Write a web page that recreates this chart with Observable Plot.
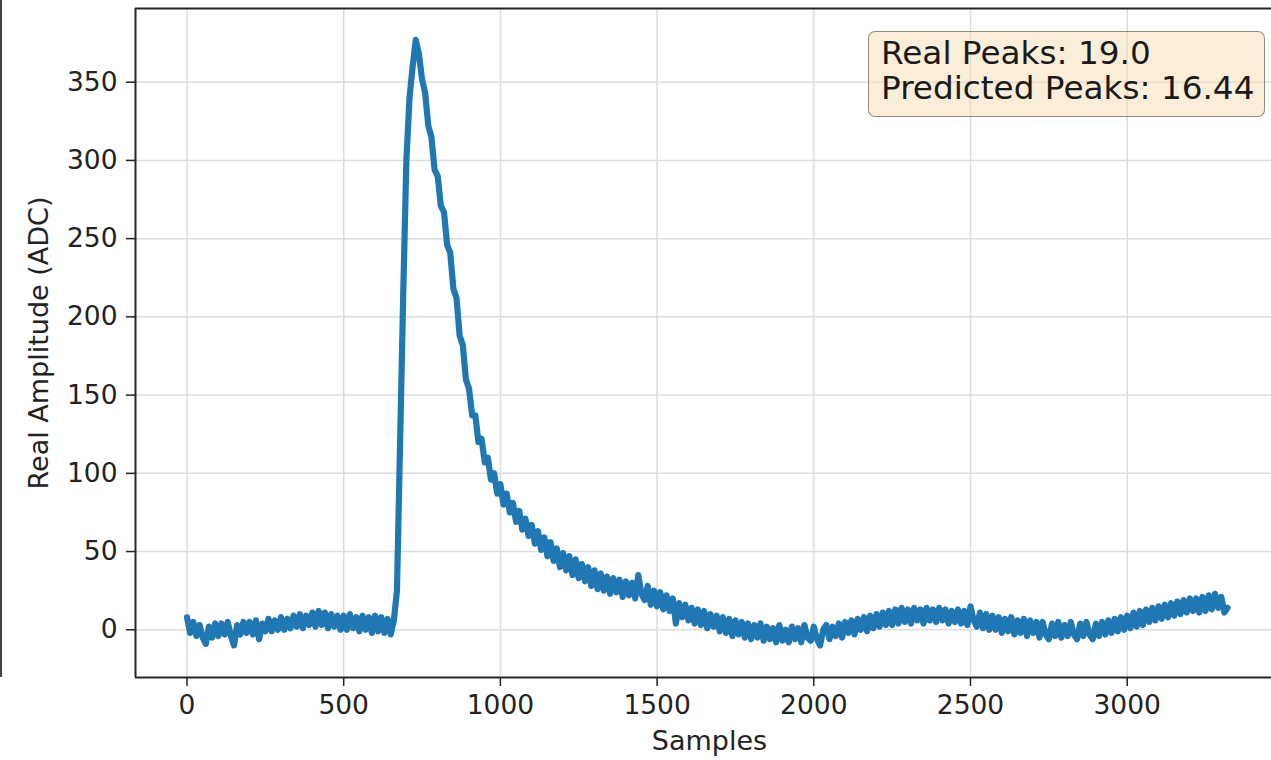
<!DOCTYPE html>
<html>
<head>
<meta charset="utf-8">
<script src="https://cdn.jsdelivr.net/npm/d3@7"></script>
<script src="https://cdn.jsdelivr.net/npm/@observablehq/plot@0.6"></script>
<style>
  html, body { margin: 0; padding: 0; background: #fff; }
  #wrap { position: relative; width: 1271px; height: 760px; overflow: hidden; }
  #edge { position: absolute; left: 0; top: 0; width: 2px; height: 677px; background: #444; }
  #box {
    position: absolute; left: 868px; top: 31px; width: 397px; height: 86px;
    box-sizing: border-box; border: 1.5px solid rgba(0,0,0,0.42); border-radius: 7px;
    background: rgba(245,222,179,0.5); padding: 4px 0 0 12px;
    font-family: "DejaVu Sans", sans-serif; font-size: 32.7px; line-height: 35px;
    color: #1a1a1a; white-space: nowrap;
  }
</style>
</head>
<body>
<div id="wrap">
  <div id="chart"></div>
  <div id="edge"></div>
  <div id="box"></div>
</div>
<script>
// Sample spacing of the read-off values
const sampleStep = 10;
// Amplitude (ADC), every 10 samples from 0 to 3320
const amplitude = [
  8, -2, 5, -4, 3, -5, -9, 2, -5, 4,
  -4, 4, -3, 5, -4, -10, 3, -3, 5, -2,
  5, -3, 6, -6, 4, -1, 7, -1, 6, 0,
  8, 0, 7, 1, 9, 2, 10, 1, 9, 3,
  11, 2, 12, 3, 11, 1, 10, 2, 9, 0,
  9, 0, 10, 1, 8, -1, 9, 0, 8, -2,
  9, -1, 8, -2, 7, -3, 6, 25, 120, 215,
  300, 340, 360, 377, 368, 352, 343, 322, 315, 294,
  290, 271, 267, 246, 241, 218, 212, 188, 182, 160,
  154, 137, 137, 120, 122, 107, 110, 96, 100, 87,
  93, 80, 87, 75, 81, 69, 76, 64, 71, 60,
  67, 55, 63, 51, 59, 47, 56, 44, 52, 40,
  49, 38, 47, 35, 45, 33, 42, 31, 40, 28,
  38, 26, 36, 25, 34, 23, 33, 24, 32, 21,
  31, 22, 30, 20, 35, 23, 19, 28, 16, 25,
  15, 24, 13, 22, 12, 20, 4, 17, 8, 16,
  6, 14, 4, 13, 3, 12, 1, 10, 2, 9,
  -1, 8, -2, 7, -4, 6, -3, 5, -5, 4,
  -6, 3, -5, 4, -7, 2, -6, 1, -8, 3,
  -7, 0, -8, 2, -6, 1, -8, 3, -5, -7,
  2, -6, -10, 0, 3, -6, 2, -4, 4, -5,
  5, -2, 6, -3, 7, 0, 8, -1, 9, 1,
  10, 2, 11, 3, 12, 3, 13, 4, 14, 5,
  13, 4, 14, 6, 13, 4, 14, 6, 13, 5,
  14, 6, 13, 4, 12, 5, 13, 4, 12, 3,
  15, 6, 2, 11, 1, 10, 0, 9, 0, 8,
  -2, 7, -1, 8, -3, 6, -2, 7, -4, 6,
  -2, 5, -5, 5, -3, -6, 4, -4, 5, -5,
  3, -4, 5, -3, -6, 4, -4, 5, -3, -6,
  4, -4, 5, -3, 6, -2, 7, -1, 8, 0,
  9, 1, 11, 2, 12, 3, 13, 5, 14, 6,
  15, 7, 16, 8, 17, 9, 18, 10, 19, 11,
  20, 12, 20, 11, 21, 12, 22, 13, 23, 14,
  21, 11, 14
];
const xTicks = [0, 500, 1000, 1500, 2000, 2500, 3000];
const yTicks = [0, 50, 100, 150, 200, 250, 300, 350];
const xDomain = [-164.3, 3460.4];
const yDomain = [-30.5, 397.1];
const xLabel = "Samples";
const yLabel = "Real Amplitude (ADC)";
const boxLines = ["Real Peaks: 19.0", "Predicted Peaks: 16.44"];

const data = amplitude.map((v, i) => ({sample: i * sampleStep, value: v}));

const spine = {stroke: "#262626", strokeWidth: 2};
const grid = {stroke: "#dcdcdc", strokeOpacity: 1, strokeWidth: 1.5};

const chart = Plot.plot({
  width: 1271,
  height: 760,
  marginLeft: 135,
  marginRight: 0,
  marginTop: 8,
  marginBottom: 83,
  style: {fontFamily: "'DejaVu Sans', sans-serif", fontSize: "26.5px", color: "#222", background: "#fff"},
  x: {domain: xDomain},
  y: {domain: yDomain},
  marks: [
    Plot.gridX(xTicks, grid),
    Plot.gridY(yTicks, grid),
    Plot.line(data, {x: "sample", y: "value", stroke: "#1f77b4", strokeWidth: 6.2, strokeLinejoin: "round", strokeLinecap: "round"}),
    Plot.ruleY([yDomain[0]], spine),
    Plot.ruleY([yDomain[1]], spine),
    Plot.ruleX([xDomain[0]], spine),
    Plot.axisX(xTicks, {tickSize: 9, tickPadding: 9, label: null, strokeWidth: 1.5, tickFormat: d => String(d)}),
    Plot.axisY(yTicks, {tickSize: 9, tickPadding: 9, label: null, strokeWidth: 1.5, tickFormat: d => String(d)}),
    Plot.text([xLabel], {text: d => d, frameAnchor: "bottom", dx: 6, dy: 64, lineAnchor: "middle", fontSize: 27}),
    Plot.text([yLabel], {text: d => d, frameAnchor: "left", dx: -96, rotate: -90, textAnchor: "middle", lineAnchor: "middle", fontSize: 27})
  ]
});
document.getElementById("chart").appendChild(chart);

const box = document.getElementById("box");
for (const line of boxLines) {
  const div = document.createElement("div");
  div.textContent = line;
  box.appendChild(div);
}
</script>
</body>
</html>
